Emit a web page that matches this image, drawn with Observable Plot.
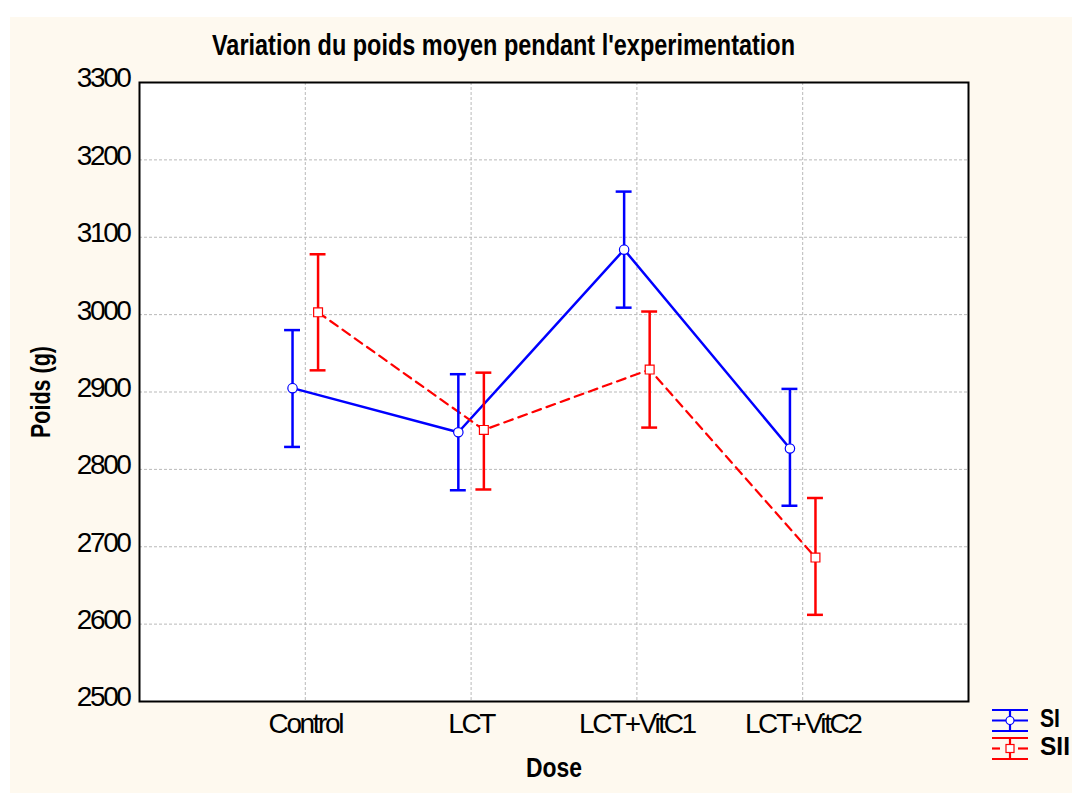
<!DOCTYPE html>
<html>
<head>
<meta charset="utf-8">
<script src="https://cdn.jsdelivr.net/npm/d3@7"></script>
<script src="https://cdn.jsdelivr.net/npm/@observablehq/plot@0.6"></script>
<style>
  html, body { margin: 0; padding: 0; background: #ffffff; width: 1072px; height: 793px; overflow: hidden; }
  #panel { position: absolute; left: 10px; top: 17px; width: 1062px; height: 776px; background: #fef9ef; }
  #chart { position: absolute; left: 0; top: 0; }
  #chart svg text { letter-spacing: -2.4px; }
  #chart svg text.free { letter-spacing: 0; }
</style>
</head>
<body>
<div id="panel"></div>
<div id="chart"></div>
<script>
// ---- data ----
const doses = ["Control", "LCT", "LCT+VitC1", "LCT+VitC2"];
const seriesNames = ["SI", "SII"];
const siMean = [2905, 2848, 3084, 2827];
const siLow  = [2829, 2773, 3009, 2753];
const siHigh = [2980, 2923, 3159, 2904];
const siiMean = [3003, 2851, 2929, 2686];
const siiLow  = [2928, 2774, 2854, 2612];
const siiHigh = [3078, 2925, 3004, 2763];
const yTicks = [2500, 2600, 2700, 2800, 2900, 3000, 3100, 3200, 3300];

const blue = "#0000ff", red = "#ff0000";
const shift = 0.077, cap = 0.048;

function rows(mean, lo, hi, off) {
  return doses.map((d, i) => ({dose: d, x: i + 1 + off, mean: mean[i], lo: lo[i], hi: hi[i]}));
}
const si = rows(siMean, siLow, siHigh, -shift);
const sii = rows(siiMean, siiLow, siiHigh, shift);

function errorMarks(data, color) {
  return [
    Plot.ruleX(data, {x: "x", y1: "lo", y2: "hi", stroke: color, strokeWidth: 2.5}),
    Plot.ruleY(data, {y: "lo", x1: d => d.x - cap, x2: d => d.x + cap, stroke: color, strokeWidth: 2.5}),
    Plot.ruleY(data, {y: "hi", x1: d => d.x - cap, x2: d => d.x + cap, stroke: color, strokeWidth: 2.5})
  ];
}

const chart = Plot.plot({
  width: 1072,
  height: 793,
  marginLeft: 139,
  marginRight: 104,
  marginTop: 82,
  marginBottom: 92,
  style: {background: "transparent", fontFamily: "'Liberation Sans', Arial, sans-serif", fontSize: "28px", color: "#000"},
  x: {domain: [0, 5]},
  y: {domain: [2500, 3300]},
  marks: [
    Plot.frame({fill: "white", stroke: null}),
    Plot.ruleX([1, 2, 3, 4], {stroke: "#b9b9b9", strokeWidth: 1, strokeDasharray: "3,2"}),
    Plot.ruleY(yTicks.slice(1, -1), {stroke: "#b9b9b9", strokeWidth: 1, strokeDasharray: "3,2"}),
    Plot.line(si, {x: "x", y: "mean", stroke: blue, strokeWidth: 2.5}),
    Plot.line(sii, {x: "x", y: "mean", stroke: red, strokeWidth: 2.2, strokeDasharray: "9,6"}),
    ...errorMarks(si, blue),
    ...errorMarks(sii, red),
    Plot.dot(si, {x: "x", y: "mean", r: 4.7, fill: "white", stroke: blue, strokeWidth: 1.2}),
    Plot.dot(sii, {x: "x", y: "mean", r: 5, symbol: "square", fill: "white", stroke: red, strokeWidth: 1.2}),
    Plot.frame({stroke: "black", strokeWidth: 2}),
    Plot.axisY({ticks: yTicks, tickFormat: d => String(d), tickSize: 0, tickPadding: 10, dy: -4, label: null, fontSize: 28}),
    Plot.axisX({ticks: [1, 2, 3, 4], tickFormat: i => doses[i - 1], tickSize: 0, tickPadding: 12, label: null, fontSize: 28})
  ]
});

document.getElementById("chart").appendChild(chart);

const svg = d3.select(chart);
const F = "'Liberation Sans', Arial, sans-serif";

// title
svg.append("text").attr("class", "free")
  .attr("x", 212).attr("y", 55)
  .attr("text-anchor", "start")
  .attr("font-family", F).attr("font-weight", "bold").attr("font-size", 29)
  .attr("textLength", 583).attr("lengthAdjust", "spacingAndGlyphs")
  .text("Variation du poids moyen pendant l'experimentation");

// y label
svg.append("text").attr("class", "free")
  .attr("transform", "translate(50,392) rotate(-90)")
  .attr("text-anchor", "middle")
  .attr("font-family", F).attr("font-weight", "bold").attr("font-size", 28)
  .attr("textLength", 92).attr("lengthAdjust", "spacingAndGlyphs")
  .text("Poids (g)");

// x label
svg.append("text").attr("class", "free")
  .attr("x", 554).attr("y", 777)
  .attr("text-anchor", "middle")
  .attr("font-family", F).attr("font-weight", "bold").attr("font-size", 27)
  .attr("textLength", 56).attr("lengthAdjust", "spacingAndGlyphs")
  .text("Dose");

// legend
const lg = svg.append("g");
function legendItem(y0, color, name, dashed, square) {
  const g = lg.append("g").attr("stroke", color).attr("stroke-width", 2.2).attr("fill", "none");
  g.append("line").attr("x1", 992).attr("x2", 1028).attr("y1", y0).attr("y2", y0);
  g.append("line").attr("x1", 992).attr("x2", 1028).attr("y1", y0 + 21).attr("y2", y0 + 21);
  g.append("line").attr("x1", 1010).attr("x2", 1010).attr("y1", y0).attr("y2", y0 + 21);
  if (dashed) {
    g.append("line").attr("x1", 992).attr("x2", 1000).attr("y1", y0 + 10.5).attr("y2", y0 + 10.5);
    g.append("line").attr("x1", 1018).attr("x2", 1028).attr("y1", y0 + 10.5).attr("y2", y0 + 10.5);
  } else {
    g.append("line").attr("x1", 992).attr("x2", 1028).attr("y1", y0 + 10.5).attr("y2", y0 + 10.5);
  }
  if (square) {
    g.append("rect").attr("x", 1006).attr("y", y0 + 6.5).attr("width", 8).attr("height", 8)
      .attr("fill", "white").attr("stroke-width", 1.2);
  } else {
    g.append("circle").attr("cx", 1010).attr("cy", y0 + 10.5).attr("r", 4)
      .attr("fill", "white").attr("stroke-width", 1.2);
  }
  lg.append("text").attr("class", "free")
    .attr("x", 1040).attr("y", y0 + 17)
    .attr("text-anchor", "start")
    .attr("font-family", F).attr("font-weight", "bold").attr("font-size", 25)
    .attr("textLength", name.length === 2 ? 20 : 30).attr("lengthAdjust", "spacingAndGlyphs")
    .text(name);
}
legendItem(710, blue, seriesNames[0], false, false);
legendItem(738, red, seriesNames[1], true, true);
</script>
</body>
</html>
